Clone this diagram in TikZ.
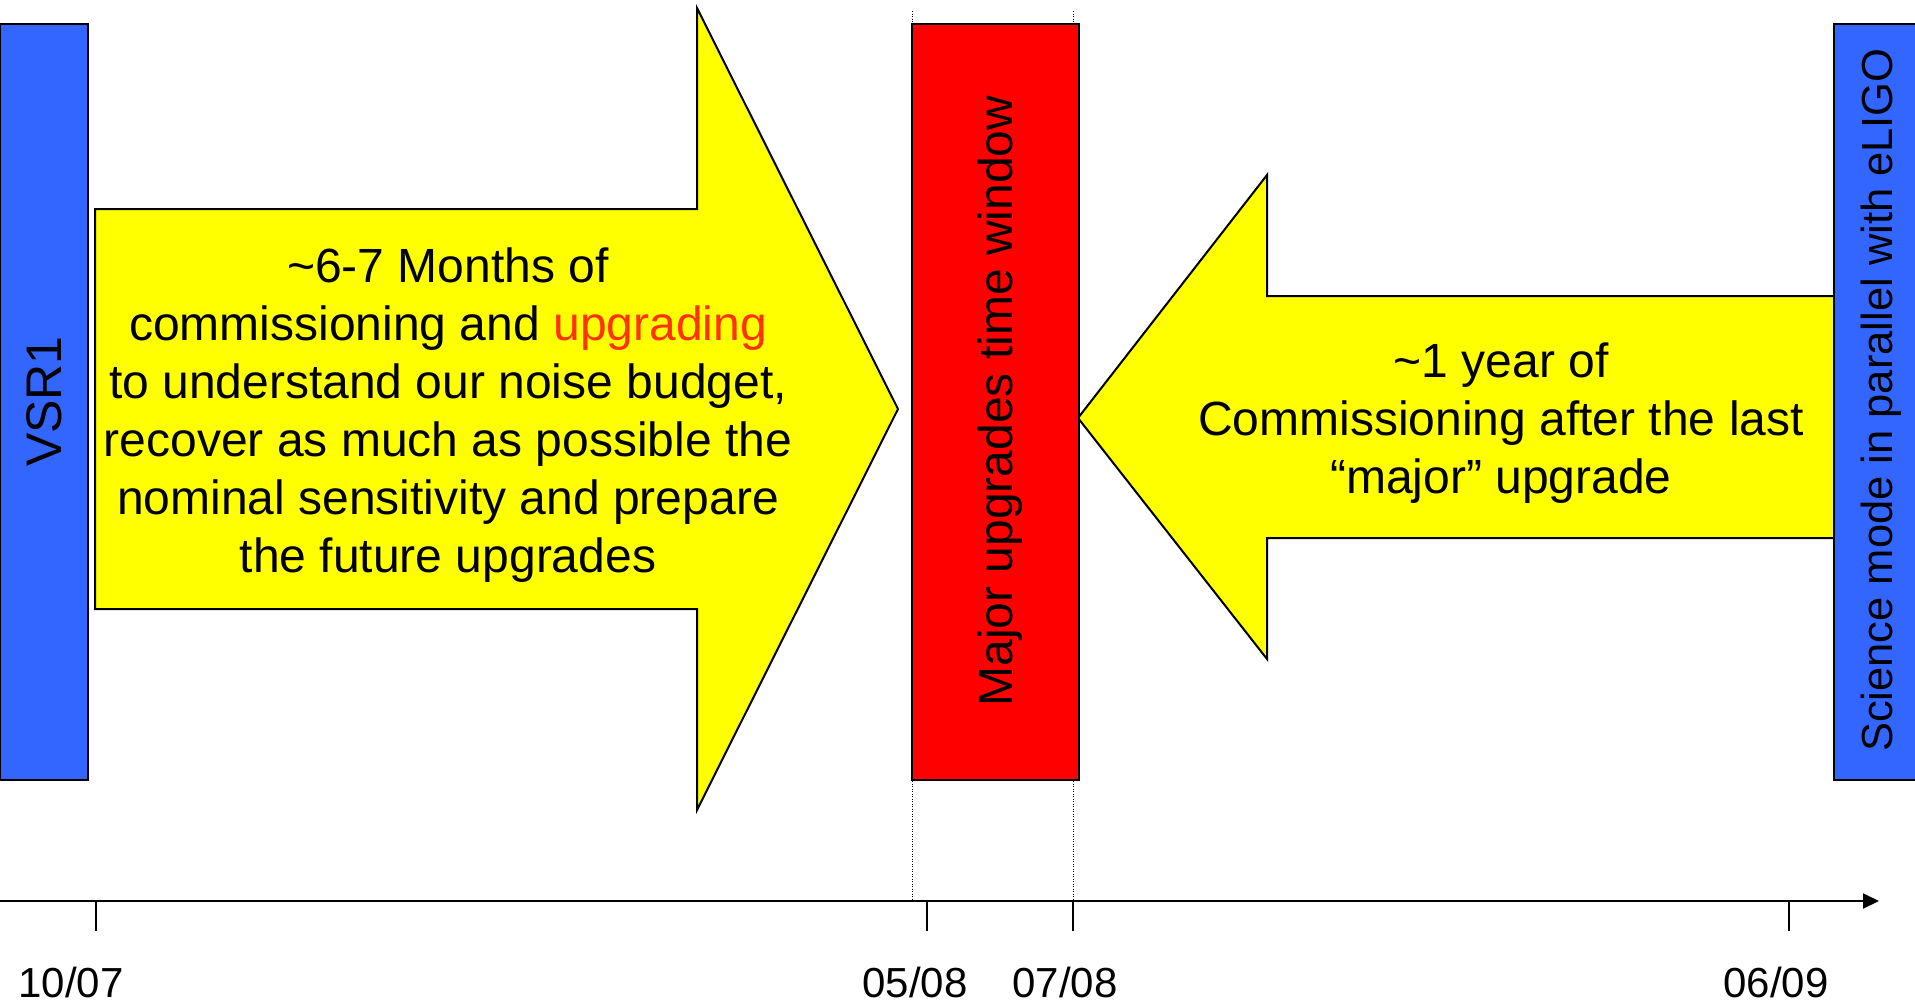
\documentclass[tikz,border=0pt]{standalone}
\usepackage{fontspec}
\setmainfont{Liberation Sans}
\usetikzlibrary{arrows.meta}
\definecolor{runblue}{RGB}{51,102,255}
\definecolor{winred}{RGB}{255,0,0}
\definecolor{phaseyellow}{RGB}{255,255,0}
\definecolor{hilite}{RGB}{255,51,0}
\begin{document}
\begin{tikzpicture}[x=1pt,y=-1pt,
  outline/.style={draw=black,line width=2pt,line join=miter},
  phase/.style={outline,fill=phaseyellow},
  period/.style={outline,inner sep=0pt,outer sep=0pt,
    minimum width=88pt,minimum height=756pt},
  vlabel/.style={rotate=90,inner sep=0pt},
  body/.style={font=\fontsize{48}{58}\selectfont,align=center,inner sep=0pt},
  datelbl/.style={font=\fontsize{42}{50}\selectfont,anchor=base,inner sep=0pt},
  guide/.style={line width=1pt,dash pattern=on 1pt off 1.5pt},
  tickmark/.style={line width=1.6pt}]
\useasboundingbox (0,0) rectangle (1915,1004);

% commissioning phase before the upgrade window
\draw[phase] (95,209) -- (697,209) -- (697,8) -- (898,409) -- (697,810)
  -- (697,609) -- (95,609) -- cycle;
% commissioning phase after the upgrade window
\draw[phase] (1078,418) -- (1267,175) -- (1267,296) -- (1850,296)
  -- (1850,538) -- (1267,538) -- (1267,659) -- cycle;

\node[body] (phaseA) at (448,415)
  {\textasciitilde6-7 Months of\\
   commissioning and \textcolor{hilite}{upgrading}\\
   to understand our noise budget,\\
   recover as much as possible the\\
   nominal sensitivity and prepare\\
   the future upgrades};
\node[body] (phaseB) at (1501,423)
  {\textasciitilde1 year of\\
   Commissioning after the last\\
   “major” upgrade};

% run periods and upgrade window
\node[period,fill=runblue] (vsr) at (43.5,401.5) {};
\node[period,fill=winred,minimum width=167pt] (window) at (995.5,402) {};
\node[period,fill=runblue] (science) at (1878,401.5) {};

\node[vlabel,font=\fontsize{50}{60}\selectfont] (vsrtext)
  at ([xshift=1pt]vsr.center) {VSR1};
\node[vlabel,font=\fontsize{48}{58}\selectfont] (windowtext)
  at ([xshift=4.5pt,yshift=1pt]window.center) {Major upgrades time window};
\node[vlabel,font=\fontsize{43.5}{52}\selectfont] (sciencetext)
  at ([xshift=3pt,yshift=1.5pt]science.center) {Science mode in parallel with eLIGO};

% guides marking the upgrade window
\coordinate (gLt) at (912,11);  \coordinate (gLm) at (912,23);
\coordinate (gRt) at (1073,11); \coordinate (gRm) at (1073,23);
\coordinate (gLb) at (912,781); \coordinate (gLa) at (912,900);
\coordinate (gRb) at (1073,781); \coordinate (gRa) at (1073,900);
\draw[guide] (gLt) -- (gLm);
\draw[guide] (gRt) -- (gRm);
\draw[guide] (gLb) -- (gLa);
\draw[guide] (gRb) -- (gRa);

% time axis
\coordinate (ax0) at (-2,901);
\coordinate (ax1) at (1879,901);
\draw[line width=2pt,-{Triangle[length=16pt,width=15pt]}] (ax0) -- (ax1);

\coordinate (t1) at (96,901);   \coordinate (t1e) at (96,931);
\coordinate (t2) at (927,901);  \coordinate (t2e) at (927,931);
\coordinate (t3) at (1073,901); \coordinate (t3e) at (1073,931);
\coordinate (t4) at (1789,901); \coordinate (t4e) at (1789,931);
\draw[tickmark] (t1) -- (t1e);
\draw[tickmark] (t2) -- (t2e);
\draw[tickmark] (t3) -- (t3e);
\draw[tickmark] (t4) -- (t4e);

\node[datelbl] (d1) at (71,997) {10/07};
\node[datelbl] (d2) at (915,997) {05/08};
\node[datelbl] (d3) at (1065,997) {07/08};
\node[datelbl] (d4) at (1776,997) {06/09};
\end{tikzpicture}
\end{document}
